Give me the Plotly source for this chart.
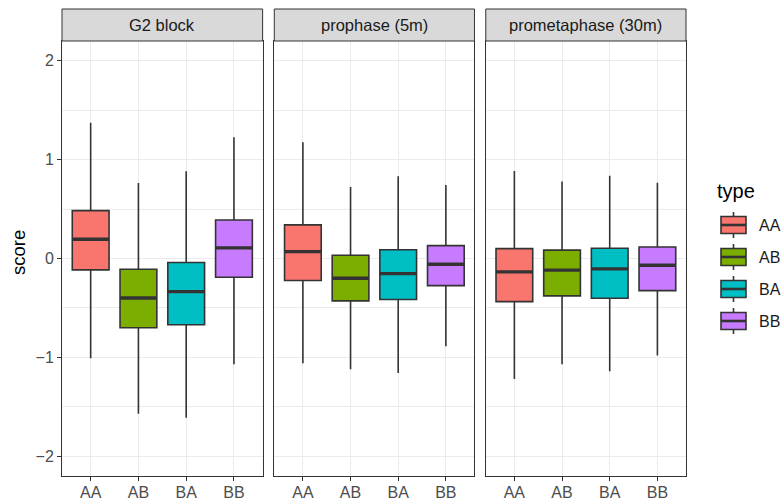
import plotly.graph_objects as go

panels = ["G2 block", "prophase (5m)", "prometaphase (30m)"]
types = ["AA", "AB", "BA", "BB"]
colors = ["#F8766D", "#7CAE00", "#00BFC4", "#C77CFF"]

# per panel, per type: lower whisker, q1, median, q3, upper whisker
g2_low = [-1.01, -1.57, -1.61, -1.07]
g2_q1 = [-0.115, -0.70, -0.67, -0.19]
g2_med = [0.195, -0.40, -0.335, 0.107]
g2_q3 = [0.484, -0.108, -0.041, 0.39]
g2_high = [1.374, 0.764, 0.883, 1.226]

pro_low = [-1.059, -1.12, -1.157, -0.887]
pro_q1 = [-0.223, -0.429, -0.415, -0.274]
pro_med = [0.07, -0.20, -0.153, -0.058]
pro_q3 = [0.34, 0.033, 0.088, 0.13]
pro_high = [1.176, 0.724, 0.832, 0.744]

pm_low = [-1.22, -1.069, -1.14, -0.982]
pm_q1 = [-0.436, -0.378, -0.402, -0.325]
pm_med = [-0.135, -0.118, -0.105, -0.068]
pm_q3 = [0.10, 0.085, 0.104, 0.117]
pm_high = [0.886, 0.778, 0.838, 0.767]

stats = [
    (g2_low, g2_q1, g2_med, g2_q3, g2_high),
    (pro_low, pro_q1, pro_med, pro_q3, pro_high),
    (pm_low, pm_q1, pm_med, pm_q3, pm_high),
]

positions = [1, 2, 3, 4]
box_w = 0.77
edge = "#333333"
font_family = "Liberation Sans, Arial, Helvetica, sans-serif"

W, H = 782, 502
ML, MR, MT, MB = 62, 96, 41, 26
PW, PH = W - ML - MR, H - MT - MB


def px_x(px):
    return (px - ML) / PW


def px_y(py):
    return (H - MB - py) / PH


fig = go.Figure()

for p, (lo, q1, med, q3, hi) in enumerate(stats):
    xa = "x" if p == 0 else f"x{p+1}"
    ya = "y" if p == 0 else f"y{p+1}"
    for i, t in enumerate(types):
        fig.add_trace(go.Box(
            x=[positions[i]], q1=[q1[i]], median=[med[i]], q3=[q3[i]],
            lowerfence=[lo[i]], upperfence=[hi[i]],
            width=box_w, whiskerwidth=0, boxpoints=False,
            fillcolor=colors[i], line=dict(color=edge, width=1.6),
            name=t, showlegend=False,
            xaxis=xa, yaxis=ya, hoverinfo="skip",
        ))
    mx, my = [], []
    for i in range(len(types)):
        mx += [positions[i] - box_w / 2, positions[i] + box_w / 2, None]
        my += [med[i], med[i], None]
    fig.add_trace(go.Scatter(x=mx, y=my, mode="lines",
                             line=dict(color=edge, width=3.4),
                             showlegend=False, hoverinfo="skip",
                             xaxis=xa, yaxis=ya))

domains = [[0.0, 0.3215], [0.3402, 0.6610], [0.6791, 1.0]]

axis_common = dict(
    showline=True, mirror=True, linecolor=edge, linewidth=1,
    ticks="outside", ticklen=4, tickcolor=edge, tickwidth=1,
    tickfont=dict(size=16, color="#4D4D4D", family=font_family),
    showgrid=True, gridcolor="#EBEBEB", gridwidth=1.1, zeroline=False,
    automargin=False,
)

shapes, annotations = [], []

layout = dict(
    width=W, height=H,
    margin=dict(l=ML, r=MR, t=MT, b=MB, autoexpand=False),
    paper_bgcolor="white", plot_bgcolor="white",
    font=dict(family=font_family, color="#1A1A1A"),
    showlegend=False,
)

for p in range(3):
    xk = "xaxis" if p == 0 else f"xaxis{p+1}"
    yk = "yaxis" if p == 0 else f"yaxis{p+1}"
    layout[xk] = dict(axis_common, domain=domains[p], range=[0.4, 4.6],
                      tickvals=positions, ticktext=types,
                      ticklabelstandoff=-2,
                      anchor="y" if p == 0 else f"y{p+1}")
    ydict = dict(axis_common, range=[-2.2, 2.2], tickvals=[-2, -1, 0, 1, 2],
                 anchor="x" if p == 0 else f"x{p+1}",
                 minor=dict(dtick=0.5, tick0=0, showgrid=True,
                            gridcolor="#EBEBEB", gridwidth=0.5, ticks=""))
    if p > 0:
        ydict.update(matches="y", showticklabels=False, ticks="")
    layout[yk] = ydict
    shapes.append(dict(
        type="rect", xref="paper", yref="paper",
        x0=domains[p][0], x1=domains[p][1], y0=1.0, y1=1.0 + 32 / PH,
        fillcolor="#D9D9D9", line=dict(color=edge, width=1), layer="above"))
    annotations.append(dict(
        text=panels[p], xref="paper", yref="paper",
        x=(domains[p][0] + domains[p][1]) / 2, y=1.0 + 16 / PH,
        xanchor="center", yanchor="middle", showarrow=False,
        font=dict(size=16.5, color="#1A1A1A")))

# y axis title
annotations.append(dict(
    text="score", xref="paper", yref="paper", x=px_x(18), y=px_y(253),
    xanchor="center", yanchor="middle", showarrow=False, textangle=-90,
    font=dict(size=18.5, color="#000000")))

# legend (ggplot style keys)
annotations.append(dict(
    text="type", xref="paper", yref="paper", x=px_x(715), y=px_y(191),
    xanchor="left", yanchor="middle", showarrow=False,
    font=dict(size=20, color="#000000")))
key_centers = [225, 257, 289, 321]
kx0, kx1 = 721, 746
kxm = (kx0 + kx1) / 2
for i, t in enumerate(types):
    cy = key_centers[i]
    shapes.append(dict(type="line", xref="paper", yref="paper",
                       x0=px_x(kxm), x1=px_x(kxm), y0=px_y(cy - 13), y1=px_y(cy + 13),
                       line=dict(color=edge, width=1.6)))
    shapes.append(dict(type="rect", xref="paper", yref="paper",
                       x0=px_x(kx0), x1=px_x(kx1), y0=px_y(cy - 8.5), y1=px_y(cy + 8.5),
                       fillcolor=colors[i], line=dict(color=edge, width=1.6)))
    shapes.append(dict(type="line", xref="paper", yref="paper",
                       x0=px_x(kx0), x1=px_x(kx1), y0=px_y(cy), y1=px_y(cy),
                       line=dict(color=edge, width=2.6)))
    annotations.append(dict(
        text=t, xref="paper", yref="paper", x=px_x(757), y=px_y(cy),
        xanchor="left", yanchor="middle", showarrow=False,
        font=dict(size=16, color="#1A1A1A")))

layout["shapes"] = shapes
layout["annotations"] = annotations
fig.update_layout(**layout)
fig.write_html("out.html", config={"displayModeBar": False},
               post_script="document.body.style.margin='0';document.body.style.padding='0';")
